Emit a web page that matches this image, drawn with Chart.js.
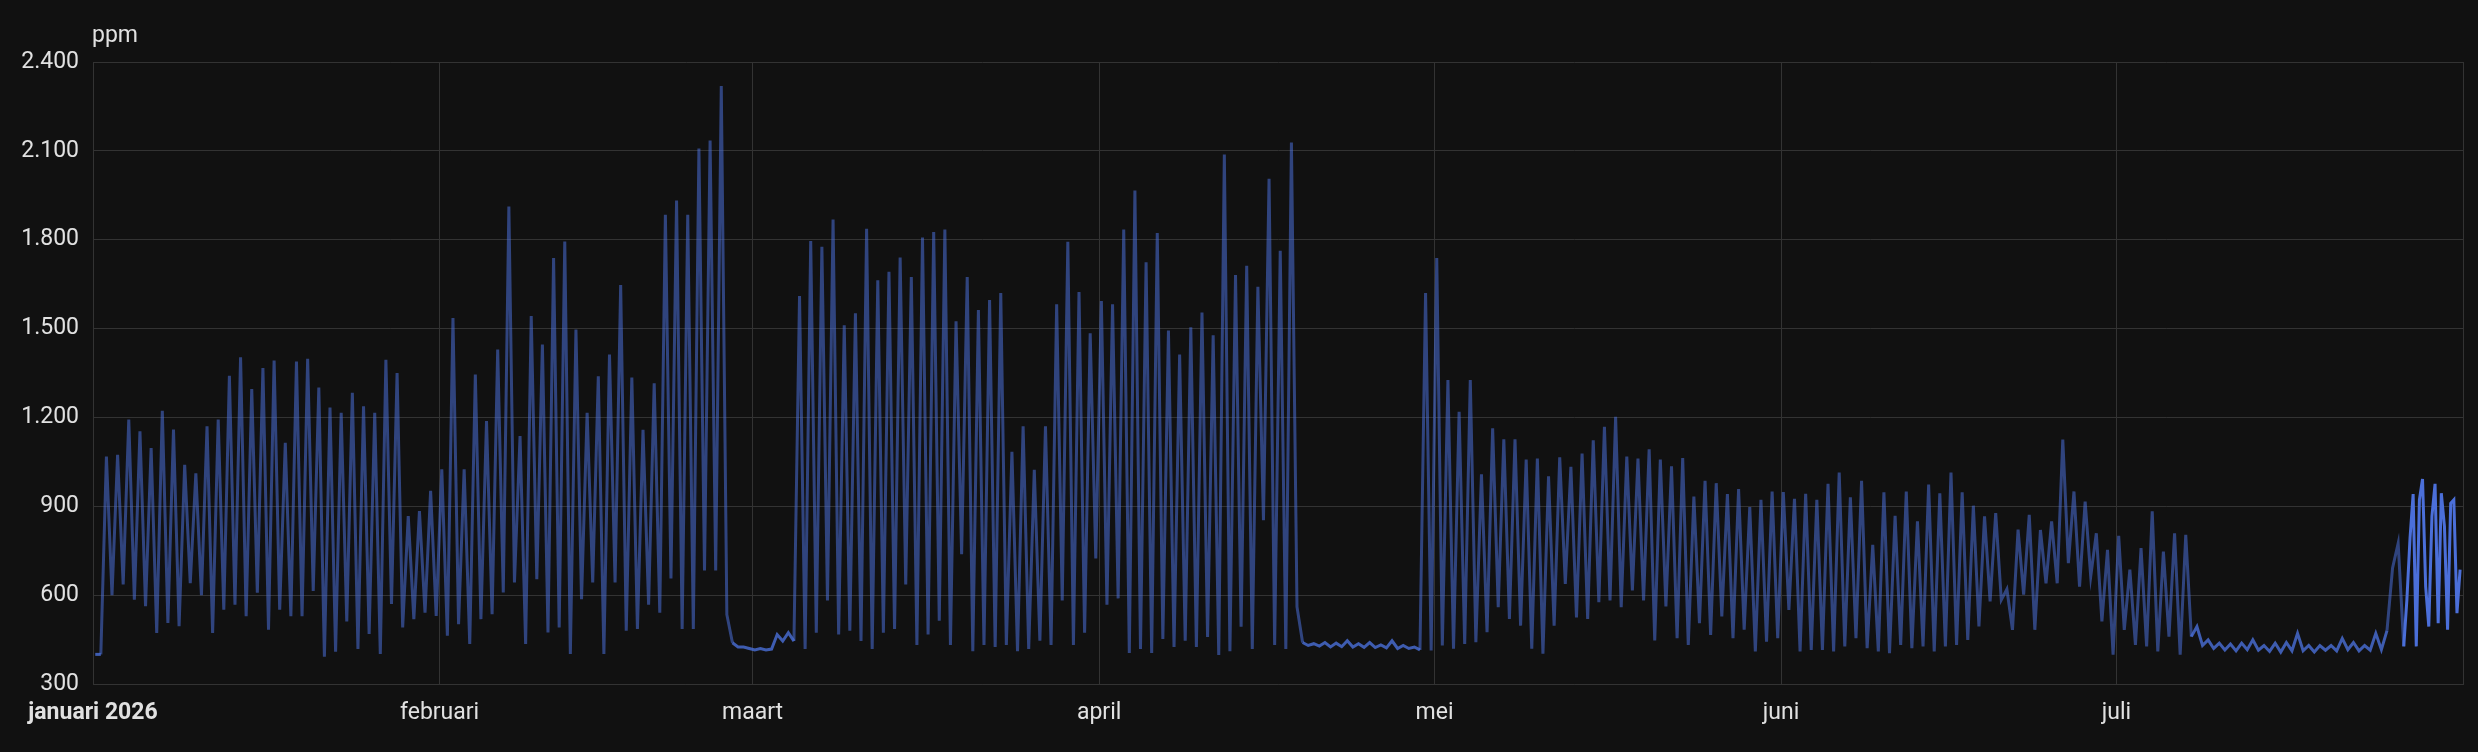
<!DOCTYPE html>
<html>
<head>
<meta charset="utf-8">
<script src="https://cdn.jsdelivr.net/npm/chart.js@4.4.1/dist/chart.umd.min.js"></script>
<style>
html,body{margin:0;padding:0;background:#111111;}
#wrap{width:2478px;height:752px;position:relative;}
</style>
</head>
<body>
<div id="wrap"><canvas id="c" width="2478" height="752"></canvas></div>
<script>
const unitLabel = 'ppm';
const monthLabels = ['januari 2026','februari','maart','april','mei','juni','juli'];
const monthStartDay = [0,31,59,90,120,151,181];
const yTicks = [300,600,900,1200,1500,1800,2100,2400];

// daily peak and low (ppm)
const janPeak = [400,1068,1074,1193,1153,1097,1222,1159,1040,1011,1170,1193,1341,1403,1296,1367,1392,1114,1389,1398,1301,1233,1216,1283,1238,1216,1395,1350,867,884,952];
const janLow  = [400,600,636,585,563,472,506,495,640,600,472,551,568,529,608,483,551,529,529,614,392,409,511,418,469,401,570,491,519,541,530];
const febPeak = [1025,1536,1025,1345,1188,1429,1912,1137,1542,1446,1738,1794,1497,1216,1339,1412,1647,1335,1158,1315,1884,1932,1884,2108,2135,2319,439,425];
const febLow  = [463,502,435,519,536,609,643,435,654,474,491,401,586,643,401,643,480,486,568,541,656,486,486,683,683,534,425,420];
const marPeak = [415,415,467,473,1610,1796,1776,1868,1511,1552,1837,1663,1692,1740,1674,1807,1826,1834,1525,1674,1563,1596,1620,1084,1170,1023,1170,1582,1793,1623,1484];
const marLow  = [420,418,445,445,418,473,582,467,480,445,418,473,486,636,432,467,514,432,738,411,432,425,432,411,418,446,432,582,432,473,724];
const aprPeak = [1593,1582,1834,1966,1724,1823,1493,1412,1504,1554,1477,2088,1681,1712,1641,2006,1763,2128,440,436,440,438,446,436,440,432,446,430,425,1620];
const aprLow  = [568,589,405,418,405,452,425,446,425,459,398,411,493,418,853,432,418,560,430,428,425,426,425,424,423,422,420,420,415,413];
const mayPeak = [1738,1326,1219,1326,1008,1163,1126,1126,1058,1061,1001,1065,1033,1078,1123,1168,1202,1068,1061,1092,1058,1035,1063,933,986,978,941,958,897,922,950];
const mayLow  = [430,419,435,441,475,559,520,497,419,402,497,638,525,520,576,582,559,616,582,447,562,455,432,505,466,528,455,483,410,443,455];
const junPeak = [948,925,942,922,976,1014,930,986,770,947,868,950,849,973,944,1014,947,902,866,877,620,821,871,820,849,1125,950,916,809,753];
const junLow  = [550,410,415,415,410,427,455,421,410,404,432,421,427,410,427,432,449,494,579,584,483,602,483,640,640,708,629,663,511,399];
const julPeak = [800,686,759,883,747,809,804,494,449,438,435,438,449,430,438,440,471,430,430,430,454,440,430,471,480,775];
const julLow  = [483,432,427,410,460,399,460,430,420,415,412,416,414,410,408,412,412,408,414,412,416,412,414,416,692,427];
// most recent, higher-resolution readings (end of juli)
const recentValues = [427,584,792,941,427,922,992,629,494,866,976,505,944,832,483,910,922,539,686];

const monthSeries = [
  [janPeak, janLow],[febPeak, febLow],[marPeak, marLow],[aprPeak, aprLow],
  [mayPeak, mayLow],[junPeak, junLow],[julPeak, julLow]
];
const mainPoints = [];
monthSeries.forEach((pair, k) => {
  pair[0].forEach((p, i) => {
    const d = monthStartDay[k] + i;
    mainPoints.push({x: d + 0.2, y: p});
    mainPoints.push({x: d + 0.7, y: pair[1][i]});
  });
});
const recentStart = mainPoints[mainPoints.length - 1].x;
const recentPoints = recentValues.map((v, i) => ({x: recentStart + i * 0.28, y: v}));

const TEXT = '#e1e1e1';
const GRID = '#333333';
const FONT = 'Roboto';
const LINE_DENSE = 'rgba(74,111,216,0.55)';
const LINE_CALM = 'rgba(74,111,216,0.8)';

function fmt(v){ return String(v).replace(/\B(?=(\d{3})+(?!\d))/g, '.'); }

const extras = {
  id: 'extras',
  afterDraw(chart){
    const {ctx, chartArea} = chart;
    ctx.save();
    ctx.strokeStyle = GRID;
    ctx.lineWidth = 1;
    ctx.beginPath();
    ctx.moveTo(Math.round(chartArea.right) + 0.5, chartArea.top);
    ctx.lineTo(Math.round(chartArea.right) + 0.5, chartArea.bottom);
    ctx.stroke();
    ctx.fillStyle = TEXT;
    ctx.font = '23px ' + FONT;
    ctx.textAlign = 'left';
    ctx.textBaseline = 'middle';
    ctx.fillText(unitLabel, chartArea.left - 1, 36);
    ctx.restore();
  }
};

new Chart(document.getElementById('c'), {
  type: 'line',
  data: {
    datasets: [
      {data: mainPoints, borderColor: LINE_DENSE, borderWidth: 3, pointRadius: 0, tension: 0, fill: false,
       segment: {borderColor: c => (c.p0.parsed.y < 500 && c.p1.parsed.y < 500) ? LINE_CALM : LINE_DENSE}},
      {data: recentPoints, borderColor: '#4b6fd9', borderWidth: 3, pointRadius: 0, tension: 0, fill: false}
    ]
  },
  options: {
    responsive: false,
    animation: false,
    devicePixelRatio: 1,
    layout: {padding: {left: 0, right: 15, top: 62, bottom: 0}},
    plugins: {legend: {display: false}, tooltip: {enabled: false}, title: {display: false}},
    scales: {
      x: {
        type: 'linear', min: 0, max: 212,
        afterBuildTicks: s => { s.ticks = monthStartDay.map(v => ({value: v})); },
        afterFit: s => { s.height = 68; },
        ticks: {
          callback: (v, i) => monthLabels[i],
          color: TEXT,
          font: c => ({family: FONT, size: 23, weight: c.index === 0 ? 'bold' : 'normal'}),
          maxRotation: 0, autoSkip: false, padding: 15
        },
        grid: {color: GRID, drawTicks: false, lineWidth: 1},
        border: {display: true, color: GRID}
      },
      y: {
        min: 300, max: 2400,
        afterBuildTicks: s => { s.ticks = yTicks.map(v => ({value: v})); },
        afterFit: s => { s.width = 93; },
        ticks: {callback: v => fmt(v), color: TEXT, font: {family: FONT, size: 23}, padding: 14},
        grid: {color: GRID, drawTicks: false, lineWidth: 1},
        border: {display: true, color: GRID}
      }
    }
  },
  plugins: [extras]
});
</script>
</body>
</html>
